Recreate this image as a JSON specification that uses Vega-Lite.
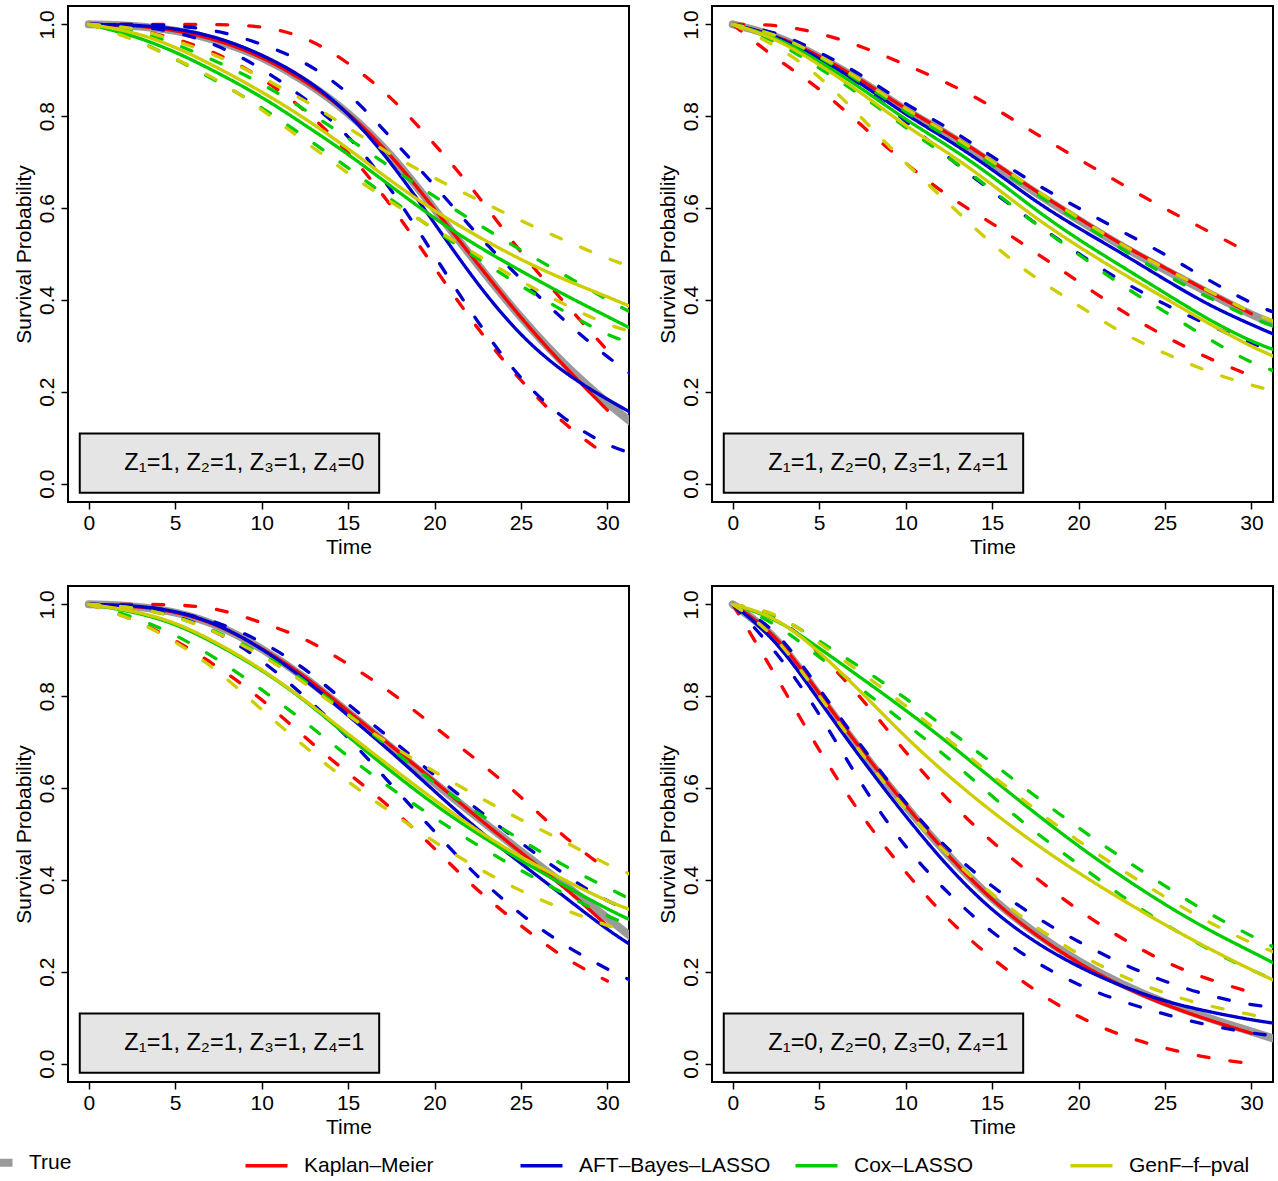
{
"$schema": "https://vega.github.io/schema/vega-lite/v6.json",
"background": "white",
"padding": {"left": -19, "top": 5, "right": 5, "bottom": 0},
"bounds": "flush",
"columns": 2,
"spacing": {"row": 84, "column": 83},
"config": {
  "font": "Liberation Sans",
  "view": {"stroke": "black", "strokeWidth": 2},
  "axis": {"grid": false, "domain": false, "tickColor": "black", "tickSize": 7, "tickWidth": 1.5, "labelFontSize": 21, "labelColor": "black", "titleFontSize": 21, "titleFontWeight": "normal", "titleColor": "black", "labelFont": "Liberation Sans", "titleFont": "Liberation Sans"},
  "legend": {"orient": "none", "legendX": -87, "legendY": 1146, "direction": "horizontal", "columns": 5, "gridAlign": "all", "columnPadding": 17, "labelFontSize": 21, "labelFont": "Liberation Sans", "labelColor": "black", "labelOffset": 27, "symbolType": "stroke", "symbolSize": 1764, "labelLimit": 400}
},
"data": {"values": [
{"p":"A","s":"T","b":"e","t":0,"v":1},{"p":"A","s":"T","b":"e","t":2.5,"v":0.998},{"p":"A","s":"T","b":"e","t":5,"v":0.988},{"p":"A","s":"T","b":"e","t":7.5,"v":0.966},{"p":"A","s":"T","b":"e","t":10,"v":0.93},{"p":"A","s":"T","b":"e","t":12.5,"v":0.878},{"p":"A","s":"T","b":"e","t":15,"v":0.81},{"p":"A","s":"T","b":"e","t":17.5,"v":0.718},{"p":"A","s":"T","b":"e","t":20,"v":0.598},{"p":"A","s":"T","b":"e","t":22.5,"v":0.476},{"p":"A","s":"T","b":"e","t":25,"v":0.36},{"p":"A","s":"T","b":"e","t":27.5,"v":0.258},{"p":"A","s":"T","b":"e","t":30,"v":0.175},{"p":"A","s":"T","b":"e","t":31.5,"v":0.13},
{"p":"B","s":"T","b":"e","t":0,"v":1},{"p":"B","s":"T","b":"e","t":2.5,"v":0.977},{"p":"B","s":"T","b":"e","t":5,"v":0.93},{"p":"B","s":"T","b":"e","t":7.5,"v":0.876},{"p":"B","s":"T","b":"e","t":10,"v":0.812},{"p":"B","s":"T","b":"e","t":12.5,"v":0.76},{"p":"B","s":"T","b":"e","t":15,"v":0.698},{"p":"B","s":"T","b":"e","t":17.5,"v":0.633},{"p":"B","s":"T","b":"e","t":20,"v":0.574},{"p":"B","s":"T","b":"e","t":22.5,"v":0.516},{"p":"B","s":"T","b":"e","t":25,"v":0.466},{"p":"B","s":"T","b":"e","t":27.5,"v":0.415},{"p":"B","s":"T","b":"e","t":30,"v":0.367},{"p":"B","s":"T","b":"e","t":31.5,"v":0.345},
{"p":"C","s":"T","b":"e","t":0,"v":1},{"p":"C","s":"T","b":"e","t":2.5,"v":0.997},{"p":"C","s":"T","b":"e","t":5,"v":0.985},{"p":"C","s":"T","b":"e","t":7.5,"v":0.956},{"p":"C","s":"T","b":"e","t":10,"v":0.905},{"p":"C","s":"T","b":"e","t":12.5,"v":0.842},{"p":"C","s":"T","b":"e","t":15,"v":0.765},{"p":"C","s":"T","b":"e","t":17.5,"v":0.688},{"p":"C","s":"T","b":"e","t":20,"v":0.611},{"p":"C","s":"T","b":"e","t":22.5,"v":0.535},{"p":"C","s":"T","b":"e","t":25,"v":0.462},{"p":"C","s":"T","b":"e","t":27.5,"v":0.39},{"p":"C","s":"T","b":"e","t":30,"v":0.318},{"p":"C","s":"T","b":"e","t":31.5,"v":0.272},
{"p":"D","s":"T","b":"e","t":0,"v":1},{"p":"D","s":"T","b":"e","t":2.5,"v":0.935},{"p":"D","s":"T","b":"e","t":5,"v":0.8},{"p":"D","s":"T","b":"e","t":7.5,"v":0.676},{"p":"D","s":"T","b":"e","t":10,"v":0.56},{"p":"D","s":"T","b":"e","t":12.5,"v":0.45},{"p":"D","s":"T","b":"e","t":15,"v":0.357},{"p":"D","s":"T","b":"e","t":17.5,"v":0.283},{"p":"D","s":"T","b":"e","t":20,"v":0.222},{"p":"D","s":"T","b":"e","t":22.5,"v":0.172},{"p":"D","s":"T","b":"e","t":25,"v":0.132},{"p":"D","s":"T","b":"e","t":27.5,"v":0.099},{"p":"D","s":"T","b":"e","t":30,"v":0.07},{"p":"D","s":"T","b":"e","t":31.5,"v":0.052},

{"p":"A","s":"KM","b":"e","t":0,"v":1},{"p":"A","s":"KM","b":"e","t":2.5,"v":0.998},{"p":"A","s":"KM","b":"e","t":5,"v":0.988},{"p":"A","s":"KM","b":"e","t":7.5,"v":0.966},{"p":"A","s":"KM","b":"e","t":10,"v":0.93},{"p":"A","s":"KM","b":"e","t":12.5,"v":0.878},{"p":"A","s":"KM","b":"e","t":15,"v":0.81},{"p":"A","s":"KM","b":"e","t":17.5,"v":0.716},{"p":"A","s":"KM","b":"e","t":20,"v":0.598},{"p":"A","s":"KM","b":"e","t":22.5,"v":0.478},{"p":"A","s":"KM","b":"e","t":25,"v":0.36},{"p":"A","s":"KM","b":"e","t":27.5,"v":0.255},{"p":"A","s":"KM","b":"e","t":30,"v":0.16},
{"p":"A","s":"KM","b":"hi","t":0,"v":1},{"p":"A","s":"KM","b":"hi","t":2.5,"v":1},{"p":"A","s":"KM","b":"hi","t":5,"v":1},{"p":"A","s":"KM","b":"hi","t":7.5,"v":1},{"p":"A","s":"KM","b":"hi","t":10,"v":0.997},{"p":"A","s":"KM","b":"hi","t":12.5,"v":0.975},{"p":"A","s":"KM","b":"hi","t":15,"v":0.918},{"p":"A","s":"KM","b":"hi","t":17.5,"v":0.843},{"p":"A","s":"KM","b":"hi","t":20,"v":0.74},{"p":"A","s":"KM","b":"hi","t":22.5,"v":0.63},{"p":"A","s":"KM","b":"hi","t":25,"v":0.5},{"p":"A","s":"KM","b":"hi","t":27.5,"v":0.395},{"p":"A","s":"KM","b":"hi","t":30,"v":0.29},
{"p":"A","s":"KM","b":"lo","t":0,"v":1},{"p":"A","s":"KM","b":"lo","t":2.5,"v":0.992},{"p":"A","s":"KM","b":"lo","t":5,"v":0.97},{"p":"A","s":"KM","b":"lo","t":7.5,"v":0.937},{"p":"A","s":"KM","b":"lo","t":10,"v":0.885},{"p":"A","s":"KM","b":"lo","t":12.5,"v":0.815},{"p":"A","s":"KM","b":"lo","t":15,"v":0.725},{"p":"A","s":"KM","b":"lo","t":17.5,"v":0.607},{"p":"A","s":"KM","b":"lo","t":20,"v":0.47},{"p":"A","s":"KM","b":"lo","t":22.5,"v":0.335},{"p":"A","s":"KM","b":"lo","t":25,"v":0.222},{"p":"A","s":"KM","b":"lo","t":27.5,"v":0.128},{"p":"A","s":"KM","b":"lo","t":30,"v":0.06},
{"p":"A","s":"AFT","b":"e","t":0,"v":1},{"p":"A","s":"AFT","b":"e","t":2.5,"v":0.999},{"p":"A","s":"AFT","b":"e","t":5,"v":0.992},{"p":"A","s":"AFT","b":"e","t":7.5,"v":0.972},{"p":"A","s":"AFT","b":"e","t":10,"v":0.935},{"p":"A","s":"AFT","b":"e","t":12.5,"v":0.885},{"p":"A","s":"AFT","b":"e","t":15,"v":0.81},{"p":"A","s":"AFT","b":"e","t":17.5,"v":0.7},{"p":"A","s":"AFT","b":"e","t":20,"v":0.567},{"p":"A","s":"AFT","b":"e","t":22.5,"v":0.432},{"p":"A","s":"AFT","b":"e","t":25,"v":0.32},{"p":"A","s":"AFT","b":"e","t":27.5,"v":0.24},{"p":"A","s":"AFT","b":"e","t":30,"v":0.183},{"p":"A","s":"AFT","b":"e","t":31.5,"v":0.152},
{"p":"A","s":"AFT","b":"hi","t":0,"v":1},{"p":"A","s":"AFT","b":"hi","t":2.5,"v":1},{"p":"A","s":"AFT","b":"hi","t":5,"v":0.998},{"p":"A","s":"AFT","b":"hi","t":7.5,"v":0.987},{"p":"A","s":"AFT","b":"hi","t":10,"v":0.958},{"p":"A","s":"AFT","b":"hi","t":12.5,"v":0.92},{"p":"A","s":"AFT","b":"hi","t":15,"v":0.855},{"p":"A","s":"AFT","b":"hi","t":17.5,"v":0.752},{"p":"A","s":"AFT","b":"hi","t":20,"v":0.65},{"p":"A","s":"AFT","b":"hi","t":22.5,"v":0.54},{"p":"A","s":"AFT","b":"hi","t":25,"v":0.445},{"p":"A","s":"AFT","b":"hi","t":27.5,"v":0.354},{"p":"A","s":"AFT","b":"hi","t":30,"v":0.275},{"p":"A","s":"AFT","b":"hi","t":31.5,"v":0.235},
{"p":"A","s":"AFT","b":"lo","t":0,"v":1},{"p":"A","s":"AFT","b":"lo","t":2.5,"v":0.998},{"p":"A","s":"AFT","b":"lo","t":5,"v":0.985},{"p":"A","s":"AFT","b":"lo","t":7.5,"v":0.955},{"p":"A","s":"AFT","b":"lo","t":10,"v":0.905},{"p":"A","s":"AFT","b":"lo","t":12.5,"v":0.84},{"p":"A","s":"AFT","b":"lo","t":15,"v":0.762},{"p":"A","s":"AFT","b":"lo","t":17.5,"v":0.643},{"p":"A","s":"AFT","b":"lo","t":20,"v":0.496},{"p":"A","s":"AFT","b":"lo","t":22.5,"v":0.35},{"p":"A","s":"AFT","b":"lo","t":25,"v":0.224},{"p":"A","s":"AFT","b":"lo","t":27.5,"v":0.138},{"p":"A","s":"AFT","b":"lo","t":30,"v":0.082},{"p":"A","s":"AFT","b":"lo","t":31.5,"v":0.065},
{"p":"A","s":"Cox","b":"e","t":0,"v":1},{"p":"A","s":"Cox","b":"e","t":2.5,"v":0.977},{"p":"A","s":"Cox","b":"e","t":5,"v":0.941},{"p":"A","s":"Cox","b":"e","t":7.5,"v":0.894},{"p":"A","s":"Cox","b":"e","t":10,"v":0.843},{"p":"A","s":"Cox","b":"e","t":12.5,"v":0.781},{"p":"A","s":"Cox","b":"e","t":15,"v":0.718},{"p":"A","s":"Cox","b":"e","t":17.5,"v":0.647},{"p":"A","s":"Cox","b":"e","t":20,"v":0.577},{"p":"A","s":"Cox","b":"e","t":22.5,"v":0.516},{"p":"A","s":"Cox","b":"e","t":25,"v":0.463},{"p":"A","s":"Cox","b":"e","t":27.5,"v":0.411},{"p":"A","s":"Cox","b":"e","t":30,"v":0.364},{"p":"A","s":"Cox","b":"e","t":31.5,"v":0.335},
{"p":"A","s":"Cox","b":"hi","t":0,"v":1},{"p":"A","s":"Cox","b":"hi","t":2.5,"v":0.99},{"p":"A","s":"Cox","b":"hi","t":5,"v":0.958},{"p":"A","s":"Cox","b":"hi","t":7.5,"v":0.918},{"p":"A","s":"Cox","b":"hi","t":10,"v":0.872},{"p":"A","s":"Cox","b":"hi","t":12.5,"v":0.815},{"p":"A","s":"Cox","b":"hi","t":15,"v":0.752},{"p":"A","s":"Cox","b":"hi","t":17.5,"v":0.688},{"p":"A","s":"Cox","b":"hi","t":20,"v":0.625},{"p":"A","s":"Cox","b":"hi","t":22.5,"v":0.565},{"p":"A","s":"Cox","b":"hi","t":25,"v":0.508},{"p":"A","s":"Cox","b":"hi","t":27.5,"v":0.455},{"p":"A","s":"Cox","b":"hi","t":30,"v":0.4},{"p":"A","s":"Cox","b":"hi","t":31.5,"v":0.37},
{"p":"A","s":"Cox","b":"lo","t":0,"v":1},{"p":"A","s":"Cox","b":"lo","t":2.5,"v":0.972},{"p":"A","s":"Cox","b":"lo","t":5,"v":0.925},{"p":"A","s":"Cox","b":"lo","t":7.5,"v":0.875},{"p":"A","s":"Cox","b":"lo","t":10,"v":0.82},{"p":"A","s":"Cox","b":"lo","t":12.5,"v":0.755},{"p":"A","s":"Cox","b":"lo","t":15,"v":0.688},{"p":"A","s":"Cox","b":"lo","t":17.5,"v":0.618},{"p":"A","s":"Cox","b":"lo","t":20,"v":0.552},{"p":"A","s":"Cox","b":"lo","t":22.5,"v":0.49},{"p":"A","s":"Cox","b":"lo","t":25,"v":0.43},{"p":"A","s":"Cox","b":"lo","t":27.5,"v":0.375},{"p":"A","s":"Cox","b":"lo","t":30,"v":0.322},{"p":"A","s":"Cox","b":"lo","t":31.5,"v":0.305},
{"p":"A","s":"GenF","b":"e","t":0,"v":1},{"p":"A","s":"GenF","b":"e","t":2.5,"v":0.985},{"p":"A","s":"GenF","b":"e","t":5,"v":0.952},{"p":"A","s":"GenF","b":"e","t":7.5,"v":0.905},{"p":"A","s":"GenF","b":"e","t":10,"v":0.854},{"p":"A","s":"GenF","b":"e","t":12.5,"v":0.796},{"p":"A","s":"GenF","b":"e","t":15,"v":0.73},{"p":"A","s":"GenF","b":"e","t":17.5,"v":0.658},{"p":"A","s":"GenF","b":"e","t":20,"v":0.593},{"p":"A","s":"GenF","b":"e","t":22.5,"v":0.538},{"p":"A","s":"GenF","b":"e","t":25,"v":0.487},{"p":"A","s":"GenF","b":"e","t":27.5,"v":0.444},{"p":"A","s":"GenF","b":"e","t":30,"v":0.407},{"p":"A","s":"GenF","b":"e","t":31.5,"v":0.383},
{"p":"A","s":"GenF","b":"hi","t":0,"v":1},{"p":"A","s":"GenF","b":"hi","t":2.5,"v":0.995},{"p":"A","s":"GenF","b":"hi","t":5,"v":0.965},{"p":"A","s":"GenF","b":"hi","t":7.5,"v":0.932},{"p":"A","s":"GenF","b":"hi","t":10,"v":0.885},{"p":"A","s":"GenF","b":"hi","t":12.5,"v":0.835},{"p":"A","s":"GenF","b":"hi","t":15,"v":0.775},{"p":"A","s":"GenF","b":"hi","t":17.5,"v":0.715},{"p":"A","s":"GenF","b":"hi","t":20,"v":0.665},{"p":"A","s":"GenF","b":"hi","t":22.5,"v":0.618},{"p":"A","s":"GenF","b":"hi","t":25,"v":0.572},{"p":"A","s":"GenF","b":"hi","t":27.5,"v":0.53},{"p":"A","s":"GenF","b":"hi","t":30,"v":0.49},{"p":"A","s":"GenF","b":"hi","t":31.5,"v":0.47},
{"p":"A","s":"GenF","b":"lo","t":0,"v":1},{"p":"A","s":"GenF","b":"lo","t":2.5,"v":0.97},{"p":"A","s":"GenF","b":"lo","t":5,"v":0.925},{"p":"A","s":"GenF","b":"lo","t":7.5,"v":0.88},{"p":"A","s":"GenF","b":"lo","t":10,"v":0.815},{"p":"A","s":"GenF","b":"lo","t":12.5,"v":0.745},{"p":"A","s":"GenF","b":"lo","t":15,"v":0.675},{"p":"A","s":"GenF","b":"lo","t":17.5,"v":0.612},{"p":"A","s":"GenF","b":"lo","t":20,"v":0.555},{"p":"A","s":"GenF","b":"lo","t":22.5,"v":0.497},{"p":"A","s":"GenF","b":"lo","t":25,"v":0.44},{"p":"A","s":"GenF","b":"lo","t":27.5,"v":0.39},{"p":"A","s":"GenF","b":"lo","t":30,"v":0.345},{"p":"A","s":"GenF","b":"lo","t":31.5,"v":0.33},

{"p":"B","s":"KM","b":"e","t":0,"v":1},{"p":"B","s":"KM","b":"e","t":2.5,"v":0.977},{"p":"B","s":"KM","b":"e","t":5,"v":0.932},{"p":"B","s":"KM","b":"e","t":7.5,"v":0.878},{"p":"B","s":"KM","b":"e","t":10,"v":0.815},{"p":"B","s":"KM","b":"e","t":12.5,"v":0.763},{"p":"B","s":"KM","b":"e","t":15,"v":0.702},{"p":"B","s":"KM","b":"e","t":17.5,"v":0.637},{"p":"B","s":"KM","b":"e","t":20,"v":0.578},{"p":"B","s":"KM","b":"e","t":22.5,"v":0.52},{"p":"B","s":"KM","b":"e","t":25,"v":0.47},{"p":"B","s":"KM","b":"e","t":27.5,"v":0.418},{"p":"B","s":"KM","b":"e","t":30,"v":0.37},
{"p":"B","s":"KM","b":"hi","t":0,"v":1},{"p":"B","s":"KM","b":"hi","t":2.5,"v":1},{"p":"B","s":"KM","b":"hi","t":5,"v":0.982},{"p":"B","s":"KM","b":"hi","t":7.5,"v":0.952},{"p":"B","s":"KM","b":"hi","t":10,"v":0.912},{"p":"B","s":"KM","b":"hi","t":12.5,"v":0.872},{"p":"B","s":"KM","b":"hi","t":15,"v":0.822},{"p":"B","s":"KM","b":"hi","t":17.5,"v":0.762},{"p":"B","s":"KM","b":"hi","t":20,"v":0.707},{"p":"B","s":"KM","b":"hi","t":22.5,"v":0.652},{"p":"B","s":"KM","b":"hi","t":25,"v":0.598},{"p":"B","s":"KM","b":"hi","t":27.5,"v":0.55},{"p":"B","s":"KM","b":"hi","t":30,"v":0.5},
{"p":"B","s":"KM","b":"lo","t":0,"v":1},{"p":"B","s":"KM","b":"lo","t":2.5,"v":0.925},{"p":"B","s":"KM","b":"lo","t":5,"v":0.862},{"p":"B","s":"KM","b":"lo","t":7.5,"v":0.778},{"p":"B","s":"KM","b":"lo","t":10,"v":0.697},{"p":"B","s":"KM","b":"lo","t":12.5,"v":0.623},{"p":"B","s":"KM","b":"lo","t":15,"v":0.568},{"p":"B","s":"KM","b":"lo","t":17.5,"v":0.503},{"p":"B","s":"KM","b":"lo","t":20,"v":0.44},{"p":"B","s":"KM","b":"lo","t":22.5,"v":0.375},{"p":"B","s":"KM","b":"lo","t":25,"v":0.32},{"p":"B","s":"KM","b":"lo","t":27.5,"v":0.272},{"p":"B","s":"KM","b":"lo","t":30,"v":0.235},
{"p":"B","s":"AFT","b":"e","t":0,"v":1},{"p":"B","s":"AFT","b":"e","t":2.5,"v":0.976},{"p":"B","s":"AFT","b":"e","t":5,"v":0.927},{"p":"B","s":"AFT","b":"e","t":7.5,"v":0.87},{"p":"B","s":"AFT","b":"e","t":10,"v":0.803},{"p":"B","s":"AFT","b":"e","t":12.5,"v":0.748},{"p":"B","s":"AFT","b":"e","t":15,"v":0.685},{"p":"B","s":"AFT","b":"e","t":17.5,"v":0.614},{"p":"B","s":"AFT","b":"e","t":20,"v":0.556},{"p":"B","s":"AFT","b":"e","t":22.5,"v":0.502},{"p":"B","s":"AFT","b":"e","t":25,"v":0.444},{"p":"B","s":"AFT","b":"e","t":27.5,"v":0.389},{"p":"B","s":"AFT","b":"e","t":30,"v":0.346},{"p":"B","s":"AFT","b":"e","t":31.5,"v":0.322},
{"p":"B","s":"AFT","b":"hi","t":0,"v":1},{"p":"B","s":"AFT","b":"hi","t":2.5,"v":0.985},{"p":"B","s":"AFT","b":"hi","t":5,"v":0.94},{"p":"B","s":"AFT","b":"hi","t":7.5,"v":0.89},{"p":"B","s":"AFT","b":"hi","t":10,"v":0.825},{"p":"B","s":"AFT","b":"hi","t":12.5,"v":0.775},{"p":"B","s":"AFT","b":"hi","t":15,"v":0.712},{"p":"B","s":"AFT","b":"hi","t":17.5,"v":0.652},{"p":"B","s":"AFT","b":"hi","t":20,"v":0.6},{"p":"B","s":"AFT","b":"hi","t":22.5,"v":0.549},{"p":"B","s":"AFT","b":"hi","t":25,"v":0.5},{"p":"B","s":"AFT","b":"hi","t":27.5,"v":0.443},{"p":"B","s":"AFT","b":"hi","t":30,"v":0.392},{"p":"B","s":"AFT","b":"hi","t":31.5,"v":0.37},
{"p":"B","s":"AFT","b":"lo","t":0,"v":1},{"p":"B","s":"AFT","b":"lo","t":2.5,"v":0.97},{"p":"B","s":"AFT","b":"lo","t":5,"v":0.915},{"p":"B","s":"AFT","b":"lo","t":7.5,"v":0.865},{"p":"B","s":"AFT","b":"lo","t":10,"v":0.79},{"p":"B","s":"AFT","b":"lo","t":12.5,"v":0.708},{"p":"B","s":"AFT","b":"lo","t":15,"v":0.636},{"p":"B","s":"AFT","b":"lo","t":17.5,"v":0.567},{"p":"B","s":"AFT","b":"lo","t":20,"v":0.5},{"p":"B","s":"AFT","b":"lo","t":22.5,"v":0.44},{"p":"B","s":"AFT","b":"lo","t":25,"v":0.39},{"p":"B","s":"AFT","b":"lo","t":27.5,"v":0.345},{"p":"B","s":"AFT","b":"lo","t":30,"v":0.306},{"p":"B","s":"AFT","b":"lo","t":31.5,"v":0.285},
{"p":"B","s":"Cox","b":"e","t":0,"v":1},{"p":"B","s":"Cox","b":"e","t":2.5,"v":0.973},{"p":"B","s":"Cox","b":"e","t":5,"v":0.92},{"p":"B","s":"Cox","b":"e","t":7.5,"v":0.86},{"p":"B","s":"Cox","b":"e","t":10,"v":0.792},{"p":"B","s":"Cox","b":"e","t":12.5,"v":0.735},{"p":"B","s":"Cox","b":"e","t":15,"v":0.67},{"p":"B","s":"Cox","b":"e","t":17.5,"v":0.596},{"p":"B","s":"Cox","b":"e","t":20,"v":0.531},{"p":"B","s":"Cox","b":"e","t":22.5,"v":0.473},{"p":"B","s":"Cox","b":"e","t":25,"v":0.415},{"p":"B","s":"Cox","b":"e","t":27.5,"v":0.357},{"p":"B","s":"Cox","b":"e","t":30,"v":0.309},{"p":"B","s":"Cox","b":"e","t":31.5,"v":0.289},
{"p":"B","s":"Cox","b":"hi","t":0,"v":1},{"p":"B","s":"Cox","b":"hi","t":2.5,"v":0.98},{"p":"B","s":"Cox","b":"hi","t":5,"v":0.93},{"p":"B","s":"Cox","b":"hi","t":7.5,"v":0.873},{"p":"B","s":"Cox","b":"hi","t":10,"v":0.808},{"p":"B","s":"Cox","b":"hi","t":12.5,"v":0.755},{"p":"B","s":"Cox","b":"hi","t":15,"v":0.695},{"p":"B","s":"Cox","b":"hi","t":17.5,"v":0.632},{"p":"B","s":"Cox","b":"hi","t":20,"v":0.572},{"p":"B","s":"Cox","b":"hi","t":22.5,"v":0.51},{"p":"B","s":"Cox","b":"hi","t":25,"v":0.455},{"p":"B","s":"Cox","b":"hi","t":27.5,"v":0.405},{"p":"B","s":"Cox","b":"hi","t":30,"v":0.36},{"p":"B","s":"Cox","b":"hi","t":31.5,"v":0.34},
{"p":"B","s":"Cox","b":"lo","t":0,"v":1},{"p":"B","s":"Cox","b":"lo","t":2.5,"v":0.965},{"p":"B","s":"Cox","b":"lo","t":5,"v":0.905},{"p":"B","s":"Cox","b":"lo","t":7.5,"v":0.845},{"p":"B","s":"Cox","b":"lo","t":10,"v":0.775},{"p":"B","s":"Cox","b":"lo","t":12.5,"v":0.71},{"p":"B","s":"Cox","b":"lo","t":15,"v":0.64},{"p":"B","s":"Cox","b":"lo","t":17.5,"v":0.565},{"p":"B","s":"Cox","b":"lo","t":20,"v":0.5},{"p":"B","s":"Cox","b":"lo","t":22.5,"v":0.43},{"p":"B","s":"Cox","b":"lo","t":25,"v":0.375},{"p":"B","s":"Cox","b":"lo","t":27.5,"v":0.315},{"p":"B","s":"Cox","b":"lo","t":30,"v":0.262},{"p":"B","s":"Cox","b":"lo","t":31.5,"v":0.243},
{"p":"B","s":"GenF","b":"e","t":0,"v":1},{"p":"B","s":"GenF","b":"e","t":2.5,"v":0.97},{"p":"B","s":"GenF","b":"e","t":5,"v":0.913},{"p":"B","s":"GenF","b":"e","t":7.5,"v":0.85},{"p":"B","s":"GenF","b":"e","t":10,"v":0.778},{"p":"B","s":"GenF","b":"e","t":12.5,"v":0.72},{"p":"B","s":"GenF","b":"e","t":15,"v":0.652},{"p":"B","s":"GenF","b":"e","t":17.5,"v":0.578},{"p":"B","s":"GenF","b":"e","t":20,"v":0.516},{"p":"B","s":"GenF","b":"e","t":22.5,"v":0.458},{"p":"B","s":"GenF","b":"e","t":25,"v":0.404},{"p":"B","s":"GenF","b":"e","t":27.5,"v":0.349},{"p":"B","s":"GenF","b":"e","t":30,"v":0.298},{"p":"B","s":"GenF","b":"e","t":31.5,"v":0.274},
{"p":"B","s":"GenF","b":"hi","t":0,"v":1},{"p":"B","s":"GenF","b":"hi","t":2.5,"v":0.98},{"p":"B","s":"GenF","b":"hi","t":5,"v":0.932},{"p":"B","s":"GenF","b":"hi","t":7.5,"v":0.878},{"p":"B","s":"GenF","b":"hi","t":10,"v":0.815},{"p":"B","s":"GenF","b":"hi","t":12.5,"v":0.763},{"p":"B","s":"GenF","b":"hi","t":15,"v":0.702},{"p":"B","s":"GenF","b":"hi","t":17.5,"v":0.64},{"p":"B","s":"GenF","b":"hi","t":20,"v":0.578},{"p":"B","s":"GenF","b":"hi","t":22.5,"v":0.52},{"p":"B","s":"GenF","b":"hi","t":25,"v":0.468},{"p":"B","s":"GenF","b":"hi","t":27.5,"v":0.42},{"p":"B","s":"GenF","b":"hi","t":30,"v":0.372},{"p":"B","s":"GenF","b":"hi","t":31.5,"v":0.35},
{"p":"B","s":"GenF","b":"lo","t":0,"v":1},{"p":"B","s":"GenF","b":"lo","t":2.5,"v":0.955},{"p":"B","s":"GenF","b":"lo","t":5,"v":0.89},{"p":"B","s":"GenF","b":"lo","t":7.5,"v":0.795},{"p":"B","s":"GenF","b":"lo","t":10,"v":0.697},{"p":"B","s":"GenF","b":"lo","t":12.5,"v":0.61},{"p":"B","s":"GenF","b":"lo","t":15,"v":0.52},{"p":"B","s":"GenF","b":"lo","t":17.5,"v":0.447},{"p":"B","s":"GenF","b":"lo","t":20,"v":0.388},{"p":"B","s":"GenF","b":"lo","t":22.5,"v":0.327},{"p":"B","s":"GenF","b":"lo","t":25,"v":0.283},{"p":"B","s":"GenF","b":"lo","t":27.5,"v":0.243},{"p":"B","s":"GenF","b":"lo","t":30,"v":0.214},{"p":"B","s":"GenF","b":"lo","t":31.5,"v":0.2},

{"p":"C","s":"KM","b":"e","t":0,"v":1},{"p":"C","s":"KM","b":"e","t":2.5,"v":0.997},{"p":"C","s":"KM","b":"e","t":5,"v":0.985},{"p":"C","s":"KM","b":"e","t":7.5,"v":0.956},{"p":"C","s":"KM","b":"e","t":10,"v":0.905},{"p":"C","s":"KM","b":"e","t":12.5,"v":0.845},{"p":"C","s":"KM","b":"e","t":15,"v":0.767},{"p":"C","s":"KM","b":"e","t":17.5,"v":0.692},{"p":"C","s":"KM","b":"e","t":20,"v":0.615},{"p":"C","s":"KM","b":"e","t":22.5,"v":0.535},{"p":"C","s":"KM","b":"e","t":25,"v":0.46},{"p":"C","s":"KM","b":"e","t":27.5,"v":0.385},{"p":"C","s":"KM","b":"e","t":30,"v":0.3},
{"p":"C","s":"KM","b":"hi","t":0,"v":1},{"p":"C","s":"KM","b":"hi","t":2.5,"v":1},{"p":"C","s":"KM","b":"hi","t":5,"v":1},{"p":"C","s":"KM","b":"hi","t":7.5,"v":0.992},{"p":"C","s":"KM","b":"hi","t":10,"v":0.96},{"p":"C","s":"KM","b":"hi","t":12.5,"v":0.928},{"p":"C","s":"KM","b":"hi","t":15,"v":0.87},{"p":"C","s":"KM","b":"hi","t":17.5,"v":0.81},{"p":"C","s":"KM","b":"hi","t":20,"v":0.733},{"p":"C","s":"KM","b":"hi","t":22.5,"v":0.66},{"p":"C","s":"KM","b":"hi","t":25,"v":0.582},{"p":"C","s":"KM","b":"hi","t":27.5,"v":0.492},{"p":"C","s":"KM","b":"hi","t":30,"v":0.422},
{"p":"C","s":"KM","b":"lo","t":0,"v":1},{"p":"C","s":"KM","b":"lo","t":2.5,"v":0.97},{"p":"C","s":"KM","b":"lo","t":5,"v":0.923},{"p":"C","s":"KM","b":"lo","t":7.5,"v":0.864},{"p":"C","s":"KM","b":"lo","t":10,"v":0.795},{"p":"C","s":"KM","b":"lo","t":12.5,"v":0.71},{"p":"C","s":"KM","b":"lo","t":15,"v":0.632},{"p":"C","s":"KM","b":"lo","t":17.5,"v":0.558},{"p":"C","s":"KM","b":"lo","t":20,"v":0.469},{"p":"C","s":"KM","b":"lo","t":22.5,"v":0.375},{"p":"C","s":"KM","b":"lo","t":25,"v":0.3},{"p":"C","s":"KM","b":"lo","t":27.5,"v":0.228},{"p":"C","s":"KM","b":"lo","t":30,"v":0.18},
{"p":"C","s":"AFT","b":"e","t":0,"v":1},{"p":"C","s":"AFT","b":"e","t":2.5,"v":0.998},{"p":"C","s":"AFT","b":"e","t":5,"v":0.987},{"p":"C","s":"AFT","b":"e","t":7.5,"v":0.957},{"p":"C","s":"AFT","b":"e","t":10,"v":0.905},{"p":"C","s":"AFT","b":"e","t":12.5,"v":0.838},{"p":"C","s":"AFT","b":"e","t":15,"v":0.758},{"p":"C","s":"AFT","b":"e","t":17.5,"v":0.679},{"p":"C","s":"AFT","b":"e","t":20,"v":0.593},{"p":"C","s":"AFT","b":"e","t":22.5,"v":0.509},{"p":"C","s":"AFT","b":"e","t":25,"v":0.436},{"p":"C","s":"AFT","b":"e","t":27.5,"v":0.364},{"p":"C","s":"AFT","b":"e","t":30,"v":0.291},{"p":"C","s":"AFT","b":"e","t":31.5,"v":0.255},
{"p":"C","s":"AFT","b":"hi","t":0,"v":1},{"p":"C","s":"AFT","b":"hi","t":2.5,"v":1},{"p":"C","s":"AFT","b":"hi","t":5,"v":0.985},{"p":"C","s":"AFT","b":"hi","t":7.5,"v":0.962},{"p":"C","s":"AFT","b":"hi","t":10,"v":0.92},{"p":"C","s":"AFT","b":"hi","t":12.5,"v":0.862},{"p":"C","s":"AFT","b":"hi","t":15,"v":0.782},{"p":"C","s":"AFT","b":"hi","t":17.5,"v":0.707},{"p":"C","s":"AFT","b":"hi","t":20,"v":0.627},{"p":"C","s":"AFT","b":"hi","t":22.5,"v":0.553},{"p":"C","s":"AFT","b":"hi","t":25,"v":0.48},{"p":"C","s":"AFT","b":"hi","t":27.5,"v":0.412},{"p":"C","s":"AFT","b":"hi","t":30,"v":0.35},{"p":"C","s":"AFT","b":"hi","t":31.5,"v":0.335},
{"p":"C","s":"AFT","b":"lo","t":0,"v":1},{"p":"C","s":"AFT","b":"lo","t":2.5,"v":0.995},{"p":"C","s":"AFT","b":"lo","t":5,"v":0.977},{"p":"C","s":"AFT","b":"lo","t":7.5,"v":0.94},{"p":"C","s":"AFT","b":"lo","t":10,"v":0.88},{"p":"C","s":"AFT","b":"lo","t":12.5,"v":0.8},{"p":"C","s":"AFT","b":"lo","t":15,"v":0.712},{"p":"C","s":"AFT","b":"lo","t":17.5,"v":0.607},{"p":"C","s":"AFT","b":"lo","t":20,"v":0.505},{"p":"C","s":"AFT","b":"lo","t":22.5,"v":0.405},{"p":"C","s":"AFT","b":"lo","t":25,"v":0.323},{"p":"C","s":"AFT","b":"lo","t":27.5,"v":0.257},{"p":"C","s":"AFT","b":"lo","t":30,"v":0.205},{"p":"C","s":"AFT","b":"lo","t":31.5,"v":0.179},
{"p":"C","s":"Cox","b":"e","t":0,"v":1},{"p":"C","s":"Cox","b":"e","t":2.5,"v":0.985},{"p":"C","s":"Cox","b":"e","t":5,"v":0.959},{"p":"C","s":"Cox","b":"e","t":7.5,"v":0.912},{"p":"C","s":"Cox","b":"e","t":10,"v":0.858},{"p":"C","s":"Cox","b":"e","t":12.5,"v":0.792},{"p":"C","s":"Cox","b":"e","t":15,"v":0.712},{"p":"C","s":"Cox","b":"e","t":17.5,"v":0.636},{"p":"C","s":"Cox","b":"e","t":20,"v":0.563},{"p":"C","s":"Cox","b":"e","t":22.5,"v":0.5},{"p":"C","s":"Cox","b":"e","t":25,"v":0.442},{"p":"C","s":"Cox","b":"e","t":27.5,"v":0.388},{"p":"C","s":"Cox","b":"e","t":30,"v":0.336},{"p":"C","s":"Cox","b":"e","t":31.5,"v":0.31},
{"p":"C","s":"Cox","b":"hi","t":0,"v":1},{"p":"C","s":"Cox","b":"hi","t":2.5,"v":0.995},{"p":"C","s":"Cox","b":"hi","t":5,"v":0.975},{"p":"C","s":"Cox","b":"hi","t":7.5,"v":0.94},{"p":"C","s":"Cox","b":"hi","t":10,"v":0.893},{"p":"C","s":"Cox","b":"hi","t":12.5,"v":0.835},{"p":"C","s":"Cox","b":"hi","t":15,"v":0.762},{"p":"C","s":"Cox","b":"hi","t":17.5,"v":0.685},{"p":"C","s":"Cox","b":"hi","t":20,"v":0.61},{"p":"C","s":"Cox","b":"hi","t":22.5,"v":0.545},{"p":"C","s":"Cox","b":"hi","t":25,"v":0.487},{"p":"C","s":"Cox","b":"hi","t":27.5,"v":0.43},{"p":"C","s":"Cox","b":"hi","t":30,"v":0.383},{"p":"C","s":"Cox","b":"hi","t":31.5,"v":0.355},
{"p":"C","s":"Cox","b":"lo","t":0,"v":1},{"p":"C","s":"Cox","b":"lo","t":2.5,"v":0.975},{"p":"C","s":"Cox","b":"lo","t":5,"v":0.935},{"p":"C","s":"Cox","b":"lo","t":7.5,"v":0.88},{"p":"C","s":"Cox","b":"lo","t":10,"v":0.815},{"p":"C","s":"Cox","b":"lo","t":12.5,"v":0.745},{"p":"C","s":"Cox","b":"lo","t":15,"v":0.668},{"p":"C","s":"Cox","b":"lo","t":17.5,"v":0.598},{"p":"C","s":"Cox","b":"lo","t":20,"v":0.535},{"p":"C","s":"Cox","b":"lo","t":22.5,"v":0.475},{"p":"C","s":"Cox","b":"lo","t":25,"v":0.42},{"p":"C","s":"Cox","b":"lo","t":27.5,"v":0.37},{"p":"C","s":"Cox","b":"lo","t":30,"v":0.32},{"p":"C","s":"Cox","b":"lo","t":31.5,"v":0.3},
{"p":"C","s":"GenF","b":"e","t":0,"v":1},{"p":"C","s":"GenF","b":"e","t":2.5,"v":0.987},{"p":"C","s":"GenF","b":"e","t":5,"v":0.962},{"p":"C","s":"GenF","b":"e","t":7.5,"v":0.915},{"p":"C","s":"GenF","b":"e","t":10,"v":0.86},{"p":"C","s":"GenF","b":"e","t":12.5,"v":0.792},{"p":"C","s":"GenF","b":"e","t":15,"v":0.718},{"p":"C","s":"GenF","b":"e","t":17.5,"v":0.645},{"p":"C","s":"GenF","b":"e","t":20,"v":0.574},{"p":"C","s":"GenF","b":"e","t":22.5,"v":0.506},{"p":"C","s":"GenF","b":"e","t":25,"v":0.449},{"p":"C","s":"GenF","b":"e","t":27.5,"v":0.4},{"p":"C","s":"GenF","b":"e","t":30,"v":0.353},{"p":"C","s":"GenF","b":"e","t":31.5,"v":0.333},
{"p":"C","s":"GenF","b":"hi","t":0,"v":1},{"p":"C","s":"GenF","b":"hi","t":2.5,"v":0.995},{"p":"C","s":"GenF","b":"hi","t":5,"v":0.975},{"p":"C","s":"GenF","b":"hi","t":7.5,"v":0.938},{"p":"C","s":"GenF","b":"hi","t":10,"v":0.89},{"p":"C","s":"GenF","b":"hi","t":12.5,"v":0.83},{"p":"C","s":"GenF","b":"hi","t":15,"v":0.758},{"p":"C","s":"GenF","b":"hi","t":17.5,"v":0.692},{"p":"C","s":"GenF","b":"hi","t":20,"v":0.635},{"p":"C","s":"GenF","b":"hi","t":22.5,"v":0.582},{"p":"C","s":"GenF","b":"hi","t":25,"v":0.53},{"p":"C","s":"GenF","b":"hi","t":27.5,"v":0.485},{"p":"C","s":"GenF","b":"hi","t":30,"v":0.432},{"p":"C","s":"GenF","b":"hi","t":31.5,"v":0.41},
{"p":"C","s":"GenF","b":"lo","t":0,"v":1},{"p":"C","s":"GenF","b":"lo","t":2.5,"v":0.97},{"p":"C","s":"GenF","b":"lo","t":5,"v":0.92},{"p":"C","s":"GenF","b":"lo","t":7.5,"v":0.856},{"p":"C","s":"GenF","b":"lo","t":10,"v":0.77},{"p":"C","s":"GenF","b":"lo","t":12.5,"v":0.69},{"p":"C","s":"GenF","b":"lo","t":15,"v":0.612},{"p":"C","s":"GenF","b":"lo","t":17.5,"v":0.547},{"p":"C","s":"GenF","b":"lo","t":20,"v":0.482},{"p":"C","s":"GenF","b":"lo","t":22.5,"v":0.425},{"p":"C","s":"GenF","b":"lo","t":25,"v":0.375},{"p":"C","s":"GenF","b":"lo","t":27.5,"v":0.335},{"p":"C","s":"GenF","b":"lo","t":30,"v":0.3},{"p":"C","s":"GenF","b":"lo","t":31.5,"v":0.285},

{"p":"D","s":"KM","b":"e","t":0,"v":1},{"p":"D","s":"KM","b":"e","t":2.5,"v":0.937},{"p":"D","s":"KM","b":"e","t":5,"v":0.805},{"p":"D","s":"KM","b":"e","t":7.5,"v":0.68},{"p":"D","s":"KM","b":"e","t":10,"v":0.562},{"p":"D","s":"KM","b":"e","t":12.5,"v":0.45},{"p":"D","s":"KM","b":"e","t":15,"v":0.355},{"p":"D","s":"KM","b":"e","t":17.5,"v":0.28},{"p":"D","s":"KM","b":"e","t":20,"v":0.218},{"p":"D","s":"KM","b":"e","t":22.5,"v":0.168},{"p":"D","s":"KM","b":"e","t":25,"v":0.128},{"p":"D","s":"KM","b":"e","t":27.5,"v":0.095},{"p":"D","s":"KM","b":"e","t":30,"v":0.066},
{"p":"D","s":"KM","b":"hi","t":0,"v":1},{"p":"D","s":"KM","b":"hi","t":2.5,"v":0.98},{"p":"D","s":"KM","b":"hi","t":5,"v":0.895},{"p":"D","s":"KM","b":"hi","t":7.5,"v":0.795},{"p":"D","s":"KM","b":"hi","t":10,"v":0.677},{"p":"D","s":"KM","b":"hi","t":12.5,"v":0.57},{"p":"D","s":"KM","b":"hi","t":15,"v":0.482},{"p":"D","s":"KM","b":"hi","t":17.5,"v":0.405},{"p":"D","s":"KM","b":"hi","t":20,"v":0.333},{"p":"D","s":"KM","b":"hi","t":22.5,"v":0.272},{"p":"D","s":"KM","b":"hi","t":25,"v":0.22},{"p":"D","s":"KM","b":"hi","t":27.5,"v":0.183},{"p":"D","s":"KM","b":"hi","t":30,"v":0.155},
{"p":"D","s":"KM","b":"lo","t":0,"v":1},{"p":"D","s":"KM","b":"lo","t":2.5,"v":0.845},{"p":"D","s":"KM","b":"lo","t":5,"v":0.68},{"p":"D","s":"KM","b":"lo","t":7.5,"v":0.535},{"p":"D","s":"KM","b":"lo","t":10,"v":0.415},{"p":"D","s":"KM","b":"lo","t":12.5,"v":0.31},{"p":"D","s":"KM","b":"lo","t":15,"v":0.228},{"p":"D","s":"KM","b":"lo","t":17.5,"v":0.158},{"p":"D","s":"KM","b":"lo","t":20,"v":0.1},{"p":"D","s":"KM","b":"lo","t":22.5,"v":0.06},{"p":"D","s":"KM","b":"lo","t":25,"v":0.033},{"p":"D","s":"KM","b":"lo","t":27.5,"v":0.012},{"p":"D","s":"KM","b":"lo","t":30,"v":0},
{"p":"D","s":"AFT","b":"e","t":0,"v":1},{"p":"D","s":"AFT","b":"e","t":2.5,"v":0.925},{"p":"D","s":"AFT","b":"e","t":5,"v":0.79},{"p":"D","s":"AFT","b":"e","t":7.5,"v":0.66},{"p":"D","s":"AFT","b":"e","t":10,"v":0.538},{"p":"D","s":"AFT","b":"e","t":12.5,"v":0.425},{"p":"D","s":"AFT","b":"e","t":15,"v":0.332},{"p":"D","s":"AFT","b":"e","t":17.5,"v":0.263},{"p":"D","s":"AFT","b":"e","t":20,"v":0.21},{"p":"D","s":"AFT","b":"e","t":22.5,"v":0.168},{"p":"D","s":"AFT","b":"e","t":25,"v":0.135},{"p":"D","s":"AFT","b":"e","t":27.5,"v":0.113},{"p":"D","s":"AFT","b":"e","t":30,"v":0.095},{"p":"D","s":"AFT","b":"e","t":31.5,"v":0.087},
{"p":"D","s":"AFT","b":"hi","t":0,"v":1},{"p":"D","s":"AFT","b":"hi","t":2.5,"v":0.95},{"p":"D","s":"AFT","b":"hi","t":5,"v":0.815},{"p":"D","s":"AFT","b":"hi","t":7.5,"v":0.688},{"p":"D","s":"AFT","b":"hi","t":10,"v":0.565},{"p":"D","s":"AFT","b":"hi","t":12.5,"v":0.462},{"p":"D","s":"AFT","b":"hi","t":15,"v":0.385},{"p":"D","s":"AFT","b":"hi","t":17.5,"v":0.318},{"p":"D","s":"AFT","b":"hi","t":20,"v":0.265},{"p":"D","s":"AFT","b":"hi","t":22.5,"v":0.217},{"p":"D","s":"AFT","b":"hi","t":25,"v":0.178},{"p":"D","s":"AFT","b":"hi","t":27.5,"v":0.148},{"p":"D","s":"AFT","b":"hi","t":30,"v":0.127},{"p":"D","s":"AFT","b":"hi","t":31.5,"v":0.122},
{"p":"D","s":"AFT","b":"lo","t":0,"v":1},{"p":"D","s":"AFT","b":"lo","t":2.5,"v":0.9},{"p":"D","s":"AFT","b":"lo","t":5,"v":0.765},{"p":"D","s":"AFT","b":"lo","t":7.5,"v":0.602},{"p":"D","s":"AFT","b":"lo","t":10,"v":0.468},{"p":"D","s":"AFT","b":"lo","t":12.5,"v":0.368},{"p":"D","s":"AFT","b":"lo","t":15,"v":0.284},{"p":"D","s":"AFT","b":"lo","t":17.5,"v":0.22},{"p":"D","s":"AFT","b":"lo","t":20,"v":0.17},{"p":"D","s":"AFT","b":"lo","t":22.5,"v":0.135},{"p":"D","s":"AFT","b":"lo","t":25,"v":0.107},{"p":"D","s":"AFT","b":"lo","t":27.5,"v":0.083},{"p":"D","s":"AFT","b":"lo","t":30,"v":0.066},{"p":"D","s":"AFT","b":"lo","t":31.5,"v":0.06},
{"p":"D","s":"Cox","b":"e","t":0,"v":1},{"p":"D","s":"Cox","b":"e","t":2.5,"v":0.97},{"p":"D","s":"Cox","b":"e","t":5,"v":0.905},{"p":"D","s":"Cox","b":"e","t":7.5,"v":0.838},{"p":"D","s":"Cox","b":"e","t":10,"v":0.77},{"p":"D","s":"Cox","b":"e","t":12.5,"v":0.698},{"p":"D","s":"Cox","b":"e","t":15,"v":0.62},{"p":"D","s":"Cox","b":"e","t":17.5,"v":0.545},{"p":"D","s":"Cox","b":"e","t":20,"v":0.473},{"p":"D","s":"Cox","b":"e","t":22.5,"v":0.407},{"p":"D","s":"Cox","b":"e","t":25,"v":0.346},{"p":"D","s":"Cox","b":"e","t":27.5,"v":0.291},{"p":"D","s":"Cox","b":"e","t":30,"v":0.244},{"p":"D","s":"Cox","b":"e","t":31.5,"v":0.215},
{"p":"D","s":"Cox","b":"hi","t":0,"v":1},{"p":"D","s":"Cox","b":"hi","t":2.5,"v":0.98},{"p":"D","s":"Cox","b":"hi","t":5,"v":0.92},{"p":"D","s":"Cox","b":"hi","t":7.5,"v":0.861},{"p":"D","s":"Cox","b":"hi","t":10,"v":0.796},{"p":"D","s":"Cox","b":"hi","t":12.5,"v":0.726},{"p":"D","s":"Cox","b":"hi","t":15,"v":0.655},{"p":"D","s":"Cox","b":"hi","t":17.5,"v":0.582},{"p":"D","s":"Cox","b":"hi","t":20,"v":0.513},{"p":"D","s":"Cox","b":"hi","t":22.5,"v":0.448},{"p":"D","s":"Cox","b":"hi","t":25,"v":0.387},{"p":"D","s":"Cox","b":"hi","t":27.5,"v":0.327},{"p":"D","s":"Cox","b":"hi","t":30,"v":0.278},{"p":"D","s":"Cox","b":"hi","t":31.5,"v":0.25},
{"p":"D","s":"Cox","b":"lo","t":0,"v":1},{"p":"D","s":"Cox","b":"lo","t":2.5,"v":0.96},{"p":"D","s":"Cox","b":"lo","t":5,"v":0.885},{"p":"D","s":"Cox","b":"lo","t":7.5,"v":0.814},{"p":"D","s":"Cox","b":"lo","t":10,"v":0.741},{"p":"D","s":"Cox","b":"lo","t":12.5,"v":0.665},{"p":"D","s":"Cox","b":"lo","t":15,"v":0.582},{"p":"D","s":"Cox","b":"lo","t":17.5,"v":0.503},{"p":"D","s":"Cox","b":"lo","t":20,"v":0.434},{"p":"D","s":"Cox","b":"lo","t":22.5,"v":0.364},{"p":"D","s":"Cox","b":"lo","t":25,"v":0.303},{"p":"D","s":"Cox","b":"lo","t":27.5,"v":0.248},{"p":"D","s":"Cox","b":"lo","t":30,"v":0.203},{"p":"D","s":"Cox","b":"lo","t":31.5,"v":0.18},
{"p":"D","s":"GenF","b":"e","t":0,"v":1},{"p":"D","s":"GenF","b":"e","t":2.5,"v":0.974},{"p":"D","s":"GenF","b":"e","t":5,"v":0.898},{"p":"D","s":"GenF","b":"e","t":7.5,"v":0.807},{"p":"D","s":"GenF","b":"e","t":10,"v":0.71},{"p":"D","s":"GenF","b":"e","t":12.5,"v":0.625},{"p":"D","s":"GenF","b":"e","t":15,"v":0.548},{"p":"D","s":"GenF","b":"e","t":17.5,"v":0.478},{"p":"D","s":"GenF","b":"e","t":20,"v":0.415},{"p":"D","s":"GenF","b":"e","t":22.5,"v":0.357},{"p":"D","s":"GenF","b":"e","t":25,"v":0.302},{"p":"D","s":"GenF","b":"e","t":27.5,"v":0.251},{"p":"D","s":"GenF","b":"e","t":30,"v":0.204},{"p":"D","s":"GenF","b":"e","t":31.5,"v":0.178},
{"p":"D","s":"GenF","b":"hi","t":0,"v":1},{"p":"D","s":"GenF","b":"hi","t":2.5,"v":0.985},{"p":"D","s":"GenF","b":"hi","t":5,"v":0.915},{"p":"D","s":"GenF","b":"hi","t":7.5,"v":0.85},{"p":"D","s":"GenF","b":"hi","t":10,"v":0.78},{"p":"D","s":"GenF","b":"hi","t":12.5,"v":0.705},{"p":"D","s":"GenF","b":"hi","t":15,"v":0.627},{"p":"D","s":"GenF","b":"hi","t":17.5,"v":0.553},{"p":"D","s":"GenF","b":"hi","t":20,"v":0.484},{"p":"D","s":"GenF","b":"hi","t":22.5,"v":0.422},{"p":"D","s":"GenF","b":"hi","t":25,"v":0.362},{"p":"D","s":"GenF","b":"hi","t":27.5,"v":0.308},{"p":"D","s":"GenF","b":"hi","t":30,"v":0.262},{"p":"D","s":"GenF","b":"hi","t":31.5,"v":0.24},
{"p":"D","s":"GenF","b":"lo","t":0,"v":1},{"p":"D","s":"GenF","b":"lo","t":2.5,"v":0.935},{"p":"D","s":"GenF","b":"lo","t":5,"v":0.8},{"p":"D","s":"GenF","b":"lo","t":7.5,"v":0.672},{"p":"D","s":"GenF","b":"lo","t":10,"v":0.552},{"p":"D","s":"GenF","b":"lo","t":12.5,"v":0.45},{"p":"D","s":"GenF","b":"lo","t":15,"v":0.368},{"p":"D","s":"GenF","b":"lo","t":17.5,"v":0.297},{"p":"D","s":"GenF","b":"lo","t":20,"v":0.237},{"p":"D","s":"GenF","b":"lo","t":22.5,"v":0.19},{"p":"D","s":"GenF","b":"lo","t":25,"v":0.152},{"p":"D","s":"GenF","b":"lo","t":27.5,"v":0.125},{"p":"D","s":"GenF","b":"lo","t":30,"v":0.107},{"p":"D","s":"GenF","b":"lo","t":31.5,"v":0.094},

{"p":"A","lab":"Z₁=1, Z₂=1, Z₃=1, Z₄=0"},
{"p":"B","lab":"Z₁=1, Z₂=0, Z₃=1, Z₄=1"},
{"p":"C","lab":"Z₁=1, Z₂=1, Z₃=1, Z₄=1"},
{"p":"D","lab":"Z₁=0, Z₂=0, Z₃=0, Z₄=1"}
]},
"concat": [
 {"width": 561, "height": 496, "transform": [{"filter": "datum.p == 'A'"}], "layer": [
    {"transform": [{"filter": "isValid(datum.s) && datum.s == 'T'"}], "mark": {"type": "line", "clip": true, "interpolate": "basis", "strokeWidth": 8, "strokeCap": "round", "strokeJoin": "round"},
     "encoding": {"x": {"field": "t", "type": "quantitative", "title": "Time", "scale": {"domain": [-1.2, 31.25], "nice": false, "zero": false}, "axis": {"values": [0, 5, 10, 15, 20, 25, 30], "labelPadding": 3, "titlePadding": 3, "labelFlush": false}},
       "y": {"field": "v", "type": "quantitative", "title": "Survival Probability", "scale": {"domain": [-0.04, 1.04], "nice": false, "zero": false}, "axis": {"values": [0, 0.2, 0.4, 0.6, 0.8, 1], "format": ".1f", "labelAngle": -90, "labelAlign": "center", "labelBaseline": "bottom", "labelPadding": 4, "titlePadding": 2, "labelFlush": false}},
       "color": {"field": "s", "type": "nominal", "scale": {"domain": ["T", "KM", "AFT", "Cox", "GenF"], "range": ["#9A9A9A", "#FF0000", "#0000CD", "#00CD00", "#CDCD00"]}, "legend": {"title": null, "labelExpr": "datum.label == 'T' ? 'True' : datum.label == 'KM' ? 'Kaplan–Meier' : datum.label == 'AFT' ? 'AFT–Bayes–LASSO' : datum.label == 'Cox' ? 'Cox–LASSO' : 'GenF–f–pval'", "encode": {"symbols": {"update": {"strokeWidth": {"signal": "datum.value == 'T' ? 8 : 3.3"}}}}}}}},
    {"transform": [{"filter": "isValid(datum.s) && datum.s != 'T'"}], "mark": {"type": "line", "clip": true, "interpolate": "basis", "strokeWidth": 3.3, "strokeCap": "round", "strokeJoin": "round"},
     "encoding": {"x": {"field": "t", "type": "quantitative", "title": "Time"}, "y": {"field": "v", "type": "quantitative", "title": "Survival Probability"},
       "color": {"field": "s", "type": "nominal"},
       "strokeDash": {"field": "b", "type": "nominal", "scale": {"domain": ["e", "lo", "hi"], "range": [[1, 0], [11, 21], [11, 21]]}, "legend": null},
       "detail": {"field": "b", "type": "nominal"}}},
    {"transform": [{"filter": "isValid(datum.lab)"}], "mark": {"type": "rect", "fill": "#E5E5E5", "stroke": "black", "strokeWidth": 2},
     "encoding": {"x": {"datum": -0.52, "type": "quantitative"}, "x2": {"datum": 16.8}, "y": {"datum": -0.02, "type": "quantitative"}, "y2": {"datum": 0.109}}},
    {"transform": [{"filter": "isValid(datum.lab)"}], "mark": {"type": "text", "fontSize": 23.5, "font": "Liberation Sans", "color": "black", "align": "center", "baseline": "middle"},
     "encoding": {"x": {"datum": 9.0, "type": "quantitative"}, "y": {"datum": 0.044, "type": "quantitative"}, "text": {"field": "lab", "type": "nominal"}}}
 ]},
 {"width": 561, "height": 496, "transform": [{"filter": "datum.p == 'B'"}], "layer": [
    {"transform": [{"filter": "isValid(datum.s) && datum.s == 'T'"}], "mark": {"type": "line", "clip": true, "interpolate": "basis", "strokeWidth": 8, "strokeCap": "round", "strokeJoin": "round"},
     "encoding": {"x": {"field": "t", "type": "quantitative", "title": "Time", "scale": {"domain": [-1.2, 31.25], "nice": false, "zero": false}, "axis": {"values": [0, 5, 10, 15, 20, 25, 30], "labelPadding": 3, "titlePadding": 3, "labelFlush": false}},
       "y": {"field": "v", "type": "quantitative", "title": "Survival Probability", "scale": {"domain": [-0.04, 1.04], "nice": false, "zero": false}, "axis": {"values": [0, 0.2, 0.4, 0.6, 0.8, 1], "format": ".1f", "labelAngle": -90, "labelAlign": "center", "labelBaseline": "bottom", "labelPadding": 4, "titlePadding": 2, "labelFlush": false}},
       "color": {"field": "s", "type": "nominal"}}},
    {"transform": [{"filter": "isValid(datum.s) && datum.s != 'T'"}], "mark": {"type": "line", "clip": true, "interpolate": "basis", "strokeWidth": 3.3, "strokeCap": "round", "strokeJoin": "round"},
     "encoding": {"x": {"field": "t", "type": "quantitative", "title": "Time"}, "y": {"field": "v", "type": "quantitative", "title": "Survival Probability"},
       "color": {"field": "s", "type": "nominal"},
       "strokeDash": {"field": "b", "type": "nominal", "scale": {"domain": ["e", "lo", "hi"], "range": [[1, 0], [11, 21], [11, 21]]}, "legend": null},
       "detail": {"field": "b", "type": "nominal"}}},
    {"transform": [{"filter": "isValid(datum.lab)"}], "mark": {"type": "rect", "fill": "#E5E5E5", "stroke": "black", "strokeWidth": 2},
     "encoding": {"x": {"datum": -0.52, "type": "quantitative"}, "x2": {"datum": 16.8}, "y": {"datum": -0.02, "type": "quantitative"}, "y2": {"datum": 0.109}}},
    {"transform": [{"filter": "isValid(datum.lab)"}], "mark": {"type": "text", "fontSize": 23.5, "font": "Liberation Sans", "color": "black", "align": "center", "baseline": "middle"},
     "encoding": {"x": {"datum": 9.0, "type": "quantitative"}, "y": {"datum": 0.044, "type": "quantitative"}, "text": {"field": "lab", "type": "nominal"}}}
 ]},
 {"width": 561, "height": 496, "transform": [{"filter": "datum.p == 'C'"}], "layer": [
    {"transform": [{"filter": "isValid(datum.s) && datum.s == 'T'"}], "mark": {"type": "line", "clip": true, "interpolate": "basis", "strokeWidth": 8, "strokeCap": "round", "strokeJoin": "round"},
     "encoding": {"x": {"field": "t", "type": "quantitative", "title": "Time", "scale": {"domain": [-1.2, 31.25], "nice": false, "zero": false}, "axis": {"values": [0, 5, 10, 15, 20, 25, 30], "labelPadding": 3, "titlePadding": 3, "labelFlush": false}},
       "y": {"field": "v", "type": "quantitative", "title": "Survival Probability", "scale": {"domain": [-0.04, 1.04], "nice": false, "zero": false}, "axis": {"values": [0, 0.2, 0.4, 0.6, 0.8, 1], "format": ".1f", "labelAngle": -90, "labelAlign": "center", "labelBaseline": "bottom", "labelPadding": 4, "titlePadding": 2, "labelFlush": false}},
       "color": {"field": "s", "type": "nominal"}}},
    {"transform": [{"filter": "isValid(datum.s) && datum.s != 'T'"}], "mark": {"type": "line", "clip": true, "interpolate": "basis", "strokeWidth": 3.3, "strokeCap": "round", "strokeJoin": "round"},
     "encoding": {"x": {"field": "t", "type": "quantitative", "title": "Time"}, "y": {"field": "v", "type": "quantitative", "title": "Survival Probability"},
       "color": {"field": "s", "type": "nominal"},
       "strokeDash": {"field": "b", "type": "nominal", "scale": {"domain": ["e", "lo", "hi"], "range": [[1, 0], [11, 21], [11, 21]]}, "legend": null},
       "detail": {"field": "b", "type": "nominal"}}},
    {"transform": [{"filter": "isValid(datum.lab)"}], "mark": {"type": "rect", "fill": "#E5E5E5", "stroke": "black", "strokeWidth": 2},
     "encoding": {"x": {"datum": -0.52, "type": "quantitative"}, "x2": {"datum": 16.8}, "y": {"datum": -0.02, "type": "quantitative"}, "y2": {"datum": 0.109}}},
    {"transform": [{"filter": "isValid(datum.lab)"}], "mark": {"type": "text", "fontSize": 23.5, "font": "Liberation Sans", "color": "black", "align": "center", "baseline": "middle"},
     "encoding": {"x": {"datum": 9.0, "type": "quantitative"}, "y": {"datum": 0.044, "type": "quantitative"}, "text": {"field": "lab", "type": "nominal"}}}
 ]},
 {"width": 561, "height": 496, "transform": [{"filter": "datum.p == 'D'"}], "layer": [
    {"transform": [{"filter": "isValid(datum.s) && datum.s == 'T'"}], "mark": {"type": "line", "clip": true, "interpolate": "basis", "strokeWidth": 8, "strokeCap": "round", "strokeJoin": "round"},
     "encoding": {"x": {"field": "t", "type": "quantitative", "title": "Time", "scale": {"domain": [-1.2, 31.25], "nice": false, "zero": false}, "axis": {"values": [0, 5, 10, 15, 20, 25, 30], "labelPadding": 3, "titlePadding": 3, "labelFlush": false}},
       "y": {"field": "v", "type": "quantitative", "title": "Survival Probability", "scale": {"domain": [-0.04, 1.04], "nice": false, "zero": false}, "axis": {"values": [0, 0.2, 0.4, 0.6, 0.8, 1], "format": ".1f", "labelAngle": -90, "labelAlign": "center", "labelBaseline": "bottom", "labelPadding": 4, "titlePadding": 2, "labelFlush": false}},
       "color": {"field": "s", "type": "nominal"}}},
    {"transform": [{"filter": "isValid(datum.s) && datum.s != 'T'"}], "mark": {"type": "line", "clip": true, "interpolate": "basis", "strokeWidth": 3.3, "strokeCap": "round", "strokeJoin": "round"},
     "encoding": {"x": {"field": "t", "type": "quantitative", "title": "Time"}, "y": {"field": "v", "type": "quantitative", "title": "Survival Probability"},
       "color": {"field": "s", "type": "nominal"},
       "strokeDash": {"field": "b", "type": "nominal", "scale": {"domain": ["e", "lo", "hi"], "range": [[1, 0], [11, 21], [11, 21]]}, "legend": null},
       "detail": {"field": "b", "type": "nominal"}}},
    {"transform": [{"filter": "isValid(datum.lab)"}], "mark": {"type": "rect", "fill": "#E5E5E5", "stroke": "black", "strokeWidth": 2},
     "encoding": {"x": {"datum": -0.52, "type": "quantitative"}, "x2": {"datum": 16.8}, "y": {"datum": -0.02, "type": "quantitative"}, "y2": {"datum": 0.109}}},
    {"transform": [{"filter": "isValid(datum.lab)"}], "mark": {"type": "text", "fontSize": 23.5, "font": "Liberation Sans", "color": "black", "align": "center", "baseline": "middle"},
     "encoding": {"x": {"datum": 9.0, "type": "quantitative"}, "y": {"datum": 0.044, "type": "quantitative"}, "text": {"field": "lab", "type": "nominal"}}}
 ]}
]
}
